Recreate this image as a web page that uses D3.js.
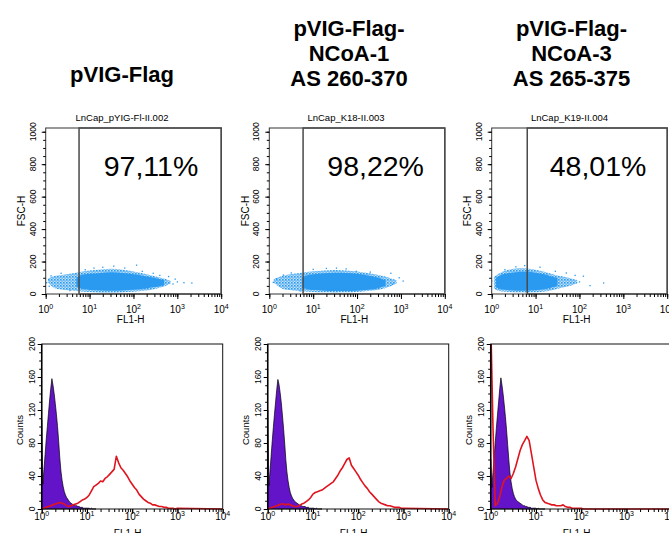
<!DOCTYPE html>
<html>
<head>
<meta charset="utf-8">
<script src="https://cdn.jsdelivr.net/npm/d3@7"></script>
<style>
  body { margin: 0; background: #fff; }
  svg { display: block; font-family: "Liberation Sans", Arial, sans-serif; }
</style>
</head>
<body>
<div id="chart"></div>
<script>
// ---- text ----
const titles = [["pVIG-Flag"], ["pVIG-Flag-", "NCoA-1", "AS 260-370"], ["pVIG-Flag-", "NCoA-3", "AS 265-375"]];
const fileLabels = ["LnCap_pYIG-Fl-II.002", "LnCap_K18-II.003", "LnCap_K19-II.004"];
const gatedPct = ["97,11%", "98,22%", "48,01%"];
const gateExp = [0.76, 0.77, 0.81];            // gate position, log10(FL1-H)

const decadeTicks = [1, 10, 100, 1000, 10000];
const fscTicks = [0, 200, 400, 600, 800, 1000];
const countTicks = [0, 40, 80, 120, 160, 200];

// ---- dot plots: FL1-H (log10) vs FSC-H ----
const cloudExp1 = [0.05, 0.15, 0.3, 0.5, 0.75, 1.0, 1.25, 1.5, 1.75, 2.0, 2.25, 2.5, 2.7, 2.85];
const cloudLo1  = [75, 40, 28, 24, 16, 12, 10, 8, 10, 14, 20, 30, 45, 65];
const cloudHi1  = [95, 110, 115, 122, 135, 145, 150, 158, 150, 140, 125, 110, 95, 80];
const coreExp1  = [0.7, 0.8, 1.0, 1.25, 1.5, 1.75, 2.0, 2.25, 2.5, 2.7];
const coreLo1   = [45, 30, 25, 22, 20, 22, 26, 32, 42, 55];
const coreHi1   = [100, 120, 125, 130, 135, 130, 122, 112, 98, 85];
const events1 = [[0.02, 70], [0.08, 48], [0.12, 112], [0.35, 128], [0.55, 22], [0.9, 150], [1.1, 160], [1.3, 165],
  [1.55, 172], [1.8, 160], [2.07, 178], [2.2, 140], [2.45, 128], [2.6, 115], [2.8, 108], [2.9, 62], [2.95, 92],
  [3.0, 75], [3.15, 70], [3.33, 68]];

const cloudExp2 = [0.1, 0.25, 0.4, 0.6, 0.8, 1.0, 1.25, 1.5, 1.75, 2.0, 2.25, 2.5, 2.7, 2.9];
const cloudLo2  = [70, 35, 25, 20, 15, 12, 10, 10, 10, 12, 18, 25, 40, 65];
const cloudHi2  = [90, 110, 120, 125, 135, 140, 145, 150, 145, 140, 130, 118, 105, 85];
const coreExp2  = [0.75, 0.85, 1.0, 1.25, 1.5, 1.75, 2.0, 2.25, 2.5, 2.65];
const coreLo2   = [40, 28, 24, 20, 18, 18, 20, 25, 35, 50];
const coreHi2   = [100, 118, 122, 128, 132, 130, 125, 115, 100, 85];
const events2 = [[0.09, 72], [0.16, 95], [0.32, 117], [0.5, 130], [0.7, 20], [1.0, 152], [1.3, 158], [1.53, 160],
  [1.75, 155], [1.98, 140], [2.3, 135], [2.77, 128], [2.81, 60], [2.96, 100], [3.05, 80]];

const cloudExp3 = [0.05, 0.12, 0.25, 0.4, 0.6, 0.8, 1.0, 1.2, 1.4, 1.6, 1.8, 1.95];
const cloudLo3  = [35, 20, 14, 12, 10, 10, 10, 14, 25, 38, 50, 65];
const cloudHi3  = [105, 120, 140, 152, 160, 158, 150, 138, 122, 108, 98, 85];
const coreExp3  = [0.1, 0.2, 0.4, 0.6, 0.8, 1.0, 1.2, 1.35, 1.5];
const coreLo3   = [40, 28, 22, 20, 20, 22, 28, 38, 50];
const coreHi3   = [100, 118, 130, 136, 138, 132, 122, 110, 98];
const events3 = [[0.0, 80], [0.3, 150], [0.55, 168], [0.75, 175], [1.1, 165], [1.45, 140], [1.7, 130], [1.9, 115],
  [2.0, 75], [2.09, 110], [2.24, 52], [2.55, 68]];

// ---- histograms: counts per channel ----
// control (purple) bins every 0.025 decade from 10^0, stained (red) every 0.05 decade
const controlCounts1 = [108, 30, 48, 66, 84, 100, 116, 132, 146, 158, 150, 140, 128, 115, 100, 82, 62, 46, 35, 27,
  21, 17, 14, 12, 10, 8, 7, 6, 5, 5, 4, 4, 3, 3, 2, 2, 2, 1, 1, 1, 1, 1, 1, 0, 1, 0, 0, 0, 0];
const controlCounts2 = [120, 28, 45, 64, 82, 99, 115, 130, 145, 157, 151, 141, 129, 114, 98, 80, 60, 45, 34, 26,
  20, 16, 13, 11, 9, 8, 7, 6, 5, 4, 4, 3, 3, 3, 2, 2, 2, 1, 1, 1, 1, 1, 0, 1, 0, 0, 0, 0, 0];
const controlCounts3 = [60, 26, 44, 62, 80, 98, 114, 130, 146, 159, 150, 139, 126, 112, 96, 78, 60, 44, 33, 25,
  19, 15, 12, 10, 9, 8, 7, 6, 5, 4, 4, 3, 3, 2, 2, 2, 1, 1, 1, 1, 1, 0, 1, 0, 0, 0, 0, 0, 0];

const stainedCounts1 = [0, 1, 2, 3, 4, 5, 6, 7, 8, 7, 6, 4, 3, 4, 5, 6, 7, 9, 11, 12, 14, 17, 22, 27, 29, 31, 34, 33,
  37, 39, 42, 45, 48, 64, 56, 50, 47, 43, 39, 34, 30, 26, 23, 18, 15, 12, 10, 8, 7, 5, 5, 4, 3, 3, 2, 2, 1, 1, 1, 0, 1];
const stainedCounts2 = [0, 1, 2, 3, 4, 5, 6, 6, 5, 6, 5, 4, 3, 3, 4, 6, 7, 9, 11, 14, 18, 20, 21, 22, 23, 25, 27, 29,
  31, 33, 37, 41, 46, 50, 55, 60, 62, 53, 49, 45, 41, 36, 32, 28, 25, 21, 18, 15, 12, 9, 7, 6, 5, 4, 4, 3, 2, 2, 2, 1, 1];
const stainedCounts3 = [230, 100, 4, 7, 15, 27, 35, 37, 40, 37, 43, 51, 61, 71, 78, 83, 88, 83, 67, 51, 35, 25, 17, 11,
  8, 7, 6, 5, 5, 4, 4, 4, 5, 3, 2, 2, 1, 1, 1, 1, 1, 0, 0, 0, 0, 0, 0, 0, 0, 0, 0, 0, 0, 0, 0, 0, 0, 0, 0, 0, 0];

const controlBins = d3.range(controlCounts1.length).map(k => k * 0.025);
const stainedBins = d3.range(stainedCounts1.length).map(k => k * 0.05);

const clouds = [
  { exp: cloudExp1, lo: cloudLo1, hi: cloudHi1, coreExp: coreExp1, coreLo: coreLo1, coreHi: coreHi1, events: events1 },
  { exp: cloudExp2, lo: cloudLo2, hi: cloudHi2, coreExp: coreExp2, coreLo: coreLo2, coreHi: coreHi2, events: events2 },
  { exp: cloudExp3, lo: cloudLo3, hi: cloudHi3, coreExp: coreExp3, coreLo: coreLo3, coreHi: coreHi3, events: events3 }
];
const controls = [controlCounts1, controlCounts2, controlCounts3];
const stained = [stainedCounts1, stainedCounts2, stainedCounts3];

// ---- layout ----
const scatLeft = [45.7, 269.3, 491.7], scatW = 175.5, scatTop = 128, scatBot = 294;
const histLeft = [41.7, 267.7, 490.7], histW = 181, histTop = 344, histBot = 509;
const titleX = [122, 349, 571.5], labelX = [122, 346, 569.5];
const blue = "#2a9af0", purple = "#6414c8", red = "#e0141e";

const svg = d3.select("#chart")
  .append("svg")
  .attr("width", 669)
  .attr("height", 533);

const defs = svg.append("defs");

// speckled fill for the sparse edge of the dot cloud
const pat = defs.append("pattern")
  .attr("id", "speckle")
  .attr("patternUnits", "userSpaceOnUse")
  .attr("width", 3).attr("height", 3);
pat.append("rect").attr("width", 3).attr("height", 3).attr("fill", blue).attr("opacity", 0.3);
pat.append("rect").attr("width", 1.6).attr("height", 1.6).attr("fill", blue);
pat.append("rect").attr("x", 1.5).attr("y", 1.5).attr("width", 1.2).attr("height", 1.2).attr("fill", blue);

// titles
titles.forEach((lines, i) => {
  const ys = lines.length === 1 ? [81.5] : [35.8, 61.1, 86.4];
  svg.selectAll(null)
    .data(lines)
    .enter()
    .append("text")
    .attr("x", titleX[i])
    .attr("y", (d, k) => ys[k])
    .attr("text-anchor", "middle")
    .attr("font-size", 22)
    .attr("font-weight", "bold")
    .text(d => d);
});

function logLabels(g, x, yBase) {
  const t = g.selectAll(null)
    .data(decadeTicks)
    .enter()
    .append("text")
    .attr("x", d => x(d))
    .attr("y", yBase)
    .attr("text-anchor", "middle")
    .attr("font-size", 10);
  t.append("tspan").text("10");
  t.append("tspan").attr("dy", -4.5).attr("font-size", 7).text(d => Math.round(Math.log10(d)));
}

function bottomAxis(g, x, yPos) {
  g.append("g")
    .attr("transform", `translate(0,${yPos})`)
    .call(d3.axisBottom(x).tickValues(x.ticks()).tickSize(3).tickFormat(""))
    .call(a => a.select(".domain").remove());
  g.append("g")
    .attr("transform", `translate(0,${yPos})`)
    .call(d3.axisBottom(x).tickValues(decadeTicks).tickSize(5).tickFormat(""))
    .call(a => a.select(".domain").remove());
}

function leftAxis(g, y, xPos, minor, major) {
  g.append("g")
    .attr("transform", `translate(${xPos},0)`)
    .call(d3.axisLeft(y).tickValues(minor).tickSize(2.5).tickFormat(""))
    .call(a => a.select(".domain").remove());
  g.append("g")
    .attr("transform", `translate(${xPos},0)`)
    .call(d3.axisLeft(y).tickValues(major).tickSize(4).tickFormat(""))
    .call(a => a.select(".domain").remove());
}

function drawScatter(i) {
  const left = scatLeft[i];
  const x = d3.scaleLog().domain([1, 1e4]).range([left, left + scatW]);
  const y = d3.scaleLinear().domain([0, 1023]).range([scatBot, scatTop]);
  const g = svg.append("g");
  const c = clouds[i];

  defs.append("clipPath").attr("id", "cs" + i)
    .append("rect")
    .attr("x", left).attr("y", scatTop)
    .attr("width", scatW).attr("height", scatBot - scatTop);

  const band = d3.area()
    .x(d => x(10 ** d[0]))
    .y0(d => y(d[1]))
    .y1(d => y(d[2]))
    .curve(d3.curveBasis);

  const dots = g.append("g").attr("clip-path", `url(#cs${i})`);
  dots.append("path")
    .datum(c.exp.map((e, k) => [e, c.lo[k], c.hi[k]]))
    .attr("d", band)
    .attr("fill", "url(#speckle)");
  dots.append("path")
    .datum(c.coreExp.map((e, k) => [e, c.coreLo[k], c.coreHi[k]]))
    .attr("d", band)
    .attr("fill", blue);
  dots.selectAll("rect")
    .data(c.events)
    .enter()
    .append("rect")
    .attr("x", d => x(10 ** d[0]) - 0.6)
    .attr("y", d => y(d[1]) - 0.6)
    .attr("width", 1.3).attr("height", 1.3)
    .attr("fill", blue);

  // frame + gate
  g.append("rect")
    .attr("x", left).attr("y", scatTop)
    .attr("width", scatW).attr("height", scatBot - scatTop)
    .attr("fill", "none").attr("stroke", "#333").attr("stroke-width", 1);
  g.append("rect")
    .attr("x", x(10 ** gateExp[i])).attr("y", y(1023))
    .attr("width", x(1e4) - x(10 ** gateExp[i])).attr("height", y(0) - y(1023))
    .attr("fill", "none").attr("stroke", "#4a4a4a").attr("stroke-width", 1.5);

  g.append("text")
    .attr("x", left + 58).attr("y", 175.5)
    .attr("font-size", 28.5)
    .text(gatedPct[i]);

  g.append("text")
    .attr("x", labelX[i]).attr("y", 121)
    .attr("text-anchor", "middle")
    .attr("font-size", 9.5)
    .text(fileLabels[i]);

  bottomAxis(g, x, scatBot);
  logLabels(g, x, scatBot + 19);
  leftAxis(g, y, left, d3.range(0, 1001, 50), fscTicks);

  g.selectAll(null)
    .data(fscTicks)
    .enter()
    .append("text")
    .attr("transform", d => `translate(${left - 10.2},${y(d)}) rotate(-90)`)
    .attr("text-anchor", "middle")
    .attr("font-size", 8.5)
    .text(d => d);

  g.append("text")
    .attr("transform", `translate(${left - 20.7},${(scatTop + scatBot) / 2}) rotate(-90)`)
    .attr("text-anchor", "middle")
    .attr("font-size", 10)
    .text("FSC-H");
  g.append("text")
    .attr("x", left + 85).attr("y", scatBot + 29)
    .attr("text-anchor", "middle")
    .attr("font-size", 10)
    .text("FL1-H");
}

function drawHist(i) {
  const left = histLeft[i];
  const x = d3.scaleLog().domain([1, 1e4]).range([left, left + histW]);
  const y = d3.scaleLinear().domain([0, 200]).range([histBot, histTop]);
  const g = svg.append("g");

  defs.append("clipPath").attr("id", "ch" + i)
    .append("rect")
    .attr("x", left - 1).attr("y", histTop)
    .attr("width", histW + 1).attr("height", histBot - histTop + 1);

  const plot = g.append("g").attr("clip-path", `url(#ch${i})`);

  const area = d3.area()
    .x(d => x(10 ** d[0]))
    .y0(histBot)
    .y1(d => y(d[1]));
  plot.append("path")
    .datum(controlBins.map((e, k) => [e, controls[i][k]]))
    .attr("d", area)
    .attr("fill", purple)
    .attr("stroke", "#000")
    .attr("stroke-width", 0.7);

  const line = d3.line()
    .x(d => x(10 ** d[0]))
    .y(d => y(d[1]));
  const pts = stainedBins.map((e, k) => [e, stained[i][k]]);
  pts.push([4, 0]);
  plot.append("path")
    .datum(pts)
    .attr("d", line)
    .attr("fill", "none")
    .attr("stroke", red)
    .attr("stroke-width", 1.6)
    .attr("stroke-linejoin", "round");

  g.append("rect")
    .attr("x", left).attr("y", histTop)
    .attr("width", histW).attr("height", histBot - histTop)
    .attr("fill", "none").attr("stroke", "#111").attr("stroke-width", 1);
  g.append("line")
    .attr("x1", left).attr("x2", left)
    .attr("y1", histTop).attr("y2", histBot)
    .attr("stroke", "#000").attr("stroke-width", 1.5);

  bottomAxis(g, x, histBot);
  logLabels(g, x, histBot + 11);
  leftAxis(g, y, left, d3.range(0, 201, 10), countTicks);

  g.selectAll(null)
    .data(countTicks)
    .enter()
    .append("text")
    .attr("transform", d => `translate(${left - 7.2},${y(d)}) rotate(-90)`)
    .attr("text-anchor", "middle")
    .attr("font-size", 8.5)
    .text(d => d);

  g.append("text")
    .attr("transform", `translate(${left - 18.7},430) rotate(-90)`)
    .attr("text-anchor", "middle")
    .attr("font-size", 9.5)
    .text("Counts");
  g.append("text")
    .attr("x", left + 86).attr("y", histBot + 28)
    .attr("text-anchor", "middle")
    .attr("font-size", 10)
    .text("FL1-H");
}

[0, 1, 2].forEach(i => {
  drawScatter(i);
  drawHist(i);
});
</script>
</body>
</html>
